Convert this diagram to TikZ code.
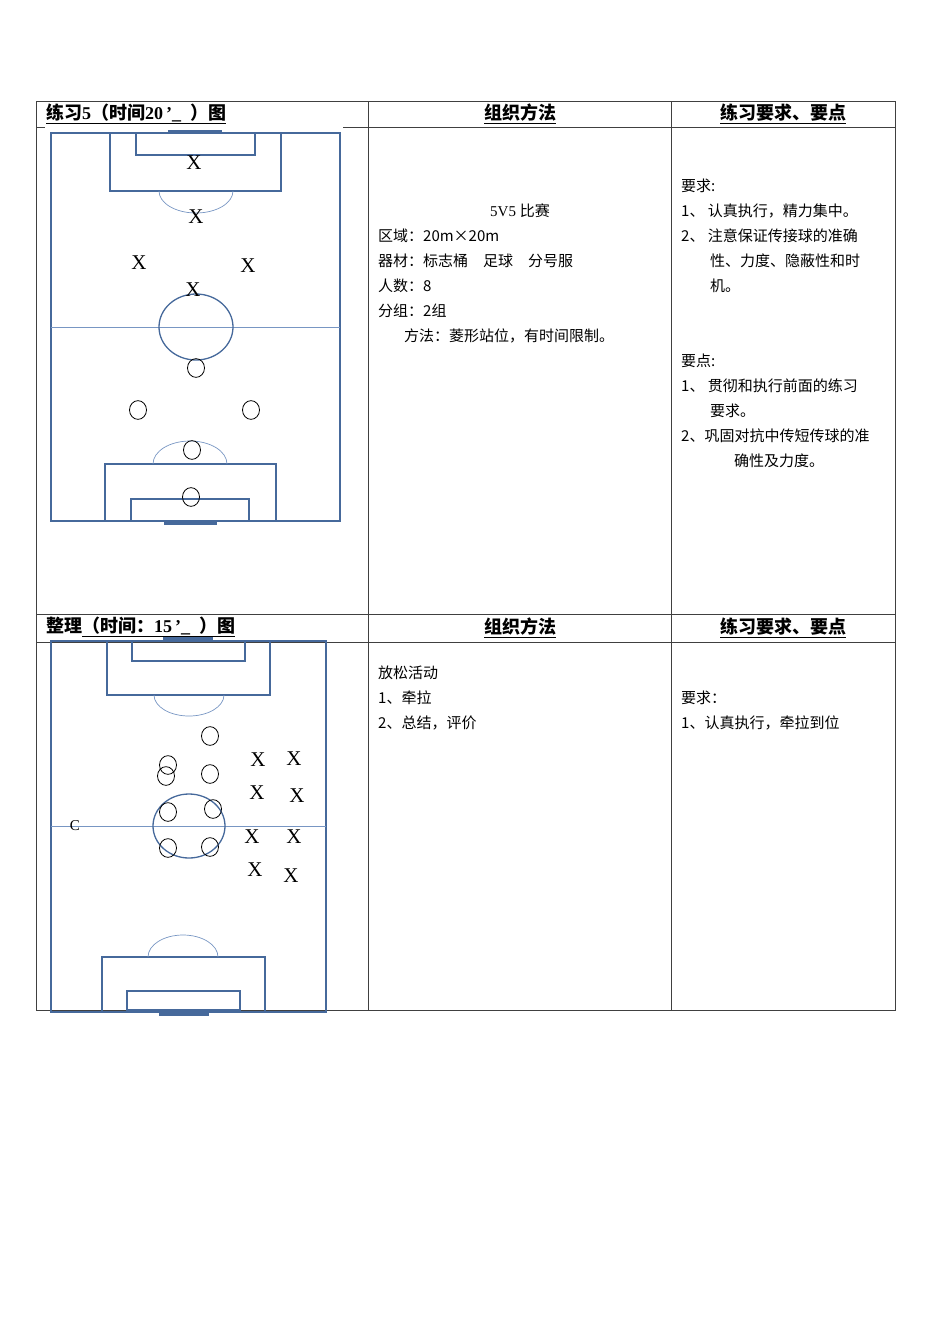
\documentclass[tikz,border=0pt]{standalone}
\usepackage{fontspec}
\setmainfont{Liberation Serif}
\newfontfamily\cjk{Noto Sans CJK SC}
\definecolor{fb}{RGB}{70,105,155}
\definecolor{fa}{RGB}{120,150,195}
\begin{document}
\begin{tikzpicture}[x=1pt,y=-1pt,
  grid/.style={draw=black!75,line width=0.6pt},
  fline/.style={draw=fb,line width=1.3pt},
  farc/.style={draw=fa,line width=0.7pt},
  gbar/.style={draw=fb,line width=3pt},
  pl/.style={circle,draw=black,line width=0.8pt,minimum width=17pt,inner sep=0pt,yscale=1.1},
  xm/.style={font=\fontsize{21}{21}\selectfont,inner sep=0pt},
  bt/.style={anchor=west,inner sep=0pt,font=\cjk\fontsize{15}{15}\selectfont},
  hd/.style={anchor=center,inner sep=0pt,font=\cjk\bfseries\fontsize{18}{18}\selectfont},
  hl/.style={anchor=west,inner sep=0pt,font=\bfseries\fontsize{18}{18}\selectfont}]
\useasboundingbox (0,0) rectangle (950,1344);
% table
\draw[grid] (36,101) rectangle (895,1010);
\draw[grid] (368,101) -- (368,1010);
\draw[grid] (671,101) -- (671,1010);
\draw[grid] (368,127) -- (895,127);
\draw[grid] (36,127) -- (45,127);
\draw[grid] (343,127) -- (368,127);
\draw[grid] (36,614) -- (895,614);
\draw[grid] (36,642) -- (895,642);
% headers
\node[hl] (h1) at (46,114) {\underline{{\cjk 练习}5{\cjk （时间}20\,'\_\ \ {\cjk ）图}}};
\node[hd] (h2) at (520,114) {\underline{组织方法}};
\node[hd] (h3) at (783,114) {\underline{练习要求、要点}};
\node[hl] (h4) at (46,627) {{\cjk 整理}\underline{{\cjk （时间：}15\,'\_\ \ {\cjk ）图}}};
\node[hd] (h5) at (520,628) {\underline{组织方法}};
\node[hd] (h6) at (783,628) {\underline{练习要求、要点}};
% middle text 1
\node[inner sep=0pt,font=\fontsize{15}{15}\selectfont] (m0) at (520,211) {5V5 {\cjk 比赛}};
\node[bt] (m1) at (378,236) {区域：20m×20m};
\node[bt] (m2) at (378,261) {器材：标志桶\quad 足球\quad 分号服};
\node[bt] (m3) at (378,286) {人数：8};
\node[bt] (m4) at (378,311) {分组：2组};
\node[bt] (m5) at (404,336) {方法：菱形站位，有时间限制。};
% right text 1
\node[bt] (r0) at (681,186) {要求:};
\node[bt] (r1) at (681,211) {1、 认真执行，精力集中。};
\node[bt] (r2) at (681,236) {2、 注意保证传接球的准确};
\node[bt] (r3) at (710,261) {性、力度、隐蔽性和时};
\node[bt] (r4) at (710,286) {机。};
\node[bt] (r5) at (681,361) {要点:};
\node[bt] (r6) at (681,386) {1、 贯彻和执行前面的练习};
\node[bt] (r7) at (710,411) {要求。};
\node[bt] (r8) at (681,436) {2、巩固对抗中传短传球的准};
\node[bt] (r9) at (734,461) {确性及力度。};
% bottom texts
\node[bt] (b1) at (378,673) {放松活动};
\node[bt] (b2) at (378,698) {1、牵拉};
\node[bt] (b3) at (378,723) {2、总结，评价};
\node[bt] (b4) at (681,698) {要求：};
\node[bt] (b5) at (681,723) {1、认真执行，牵拉到位};
% field 1
\draw[fline] (51,133) rectangle (340,521);
\draw[farc] (51,327) -- (340,327);
\draw[fline] (110,133) rectangle (281,191);
\draw[fline] (136,133) rectangle (255,155);
\draw[gbar] (168,131) -- (222,131);
\draw[farc] (159,191) arc[start angle=180,end angle=360,x radius=37,y radius=-22];
\draw[fline] (196,327) ellipse[x radius=37,y radius=33];
\draw[fline] (105,464) rectangle (276,521);
\draw[fline] (131,499) rectangle (249,521);
\draw[gbar] (164,523) -- (217,523);
\draw[farc] (153,464) arc[start angle=180,end angle=0,x radius=37,y radius=-23];
\foreach \n/\x/\y in {a/194/163,b/196/217,c/139/263,d/248/266,e/193/290}
  \node[xm] (x1\n) at (\x,\y) {X};
\foreach \n/\x/\y in {a/196/368,b/138/410,c/251/410,d/192/450,e/191/497}
  \node[pl] (o1\n) at (\x,\y) {};
% field 2
\draw[fline] (51,641) rectangle (326,1012);
\draw[farc] (51,826) -- (326,826);
\draw[fline] (107,641) rectangle (270,695);
\draw[fline] (132,641) rectangle (245,661);
\draw[gbar] (163,638) -- (213,638);
\draw[farc] (154,695) arc[start angle=180,end angle=360,x radius=35,y radius=-21];
\draw[fline] (189,826) ellipse[x radius=36,y radius=32];
\draw[fline] (102,957) rectangle (265,1012);
\draw[fline] (127,991) rectangle (240,1010);
\draw[gbar] (159,1014) -- (209,1014);
\draw[farc] (148,957) arc[start angle=180,end angle=0,x radius=35,y radius=-22];
\foreach \n/\x/\y in {a/210/736,b/168/765,c/166/776,d/210/774,e/168/812,f/213/809,g/168/848,h/210/847}
  \node[pl] (o2\n) at (\x,\y) {};
\foreach \n/\x/\y in {a/258/760,b/294/759,c/257/793,d/297/796,e/252/837,f/294/837,g/255/870,h/291/876}
  \node[xm] (x2\n) at (\x,\y) {X};
\node[inner sep=0pt,font=\fontsize{15}{15}\selectfont] (cc) at (75,826) {C};
\end{tikzpicture}
\end{document}
